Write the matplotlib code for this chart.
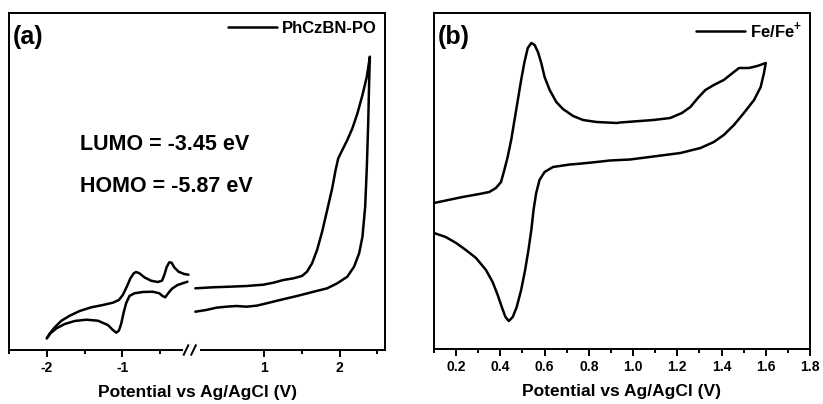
import numpy as np
import matplotlib
matplotlib.use("Agg")
import matplotlib.pyplot as plt

plt.rcParams["font.family"] = ["Liberation Sans", "DejaVu Sans"]
plt.rcParams["font.weight"] = "bold"
plt.rcParams["mathtext.fontset"] = "custom"
plt.rcParams["mathtext.rm"] = "Liberation Sans"
plt.rcParams["mathtext.bf"] = "Liberation Sans:bold"

# ---- (a) PhCzBN-PO, broken potential axis (current in arb. units) ----
a_neg_fwd_x = [-2.0, -1.96, -1.895, -1.807, -1.697, -1.566, -1.412, -1.259, -1.127,
               -1.048, -0.996, -0.943, -0.895, -0.851, -0.82, -0.776, -0.711, -0.623,
               -0.535, -0.478, -0.447, -0.417, -0.382, -0.351, -0.316, -0.259,
               -0.184, -0.128]
a_neg_fwd_y = [1.17, 1.67, 2.27, 2.93, 3.43, 3.9, 4.27, 4.5, 4.73,
               5.0, 5.5, 6.33, 7.17, 7.67, 7.8, 7.67, 7.27, 6.93,
               6.8, 6.93, 7.5, 8.27, 8.77, 8.73, 8.27, 7.83,
               7.6, 7.53]
a_neg_rev_x = [-2.0, -1.952, -1.873, -1.763, -1.632, -1.478, -1.325, -1.193, -1.127,
               -1.083, -1.048, -1.018, -0.987, -0.952, -0.908, -0.842, -0.732, -0.601,
               -0.513, -0.47, -0.434, -0.404, -0.346, -0.272, -0.141]
a_neg_rev_y = [1.17, 1.67, 2.17, 2.6, 2.9, 3.03, 2.93, 2.5, 2.0,
               1.73, 1.93, 2.6, 3.67, 4.67, 5.4, 5.67, 5.8, 5.83,
               5.67, 5.4, 5.27, 5.6, 6.13, 6.5, 6.83]
a_pos_x = [0.093, 0.324, 0.547, 0.769, 0.991, 1.124, 1.257, 1.391, 1.502, 1.569,
           1.636, 1.702, 1.769, 1.836, 1.902, 1.947, 1.982, 2.036, 2.102, 2.169,
           2.236, 2.302, 2.36, 2.40,
           2.391, 2.378, 2.36, 2.338, 2.302, 2.258, 2.191, 2.102, 1.969, 1.836,
           1.658, 1.436, 1.213, 1.036, 0.902, 0.769, 0.636, 0.502, 0.369, 0.236, 0.093]
a_pos_y = [6.17, 6.27, 6.33, 6.4, 6.53, 6.73, 7.0, 7.17, 7.4, 7.83,
           8.67, 10.0, 11.83, 14.0, 16.17, 18.0, 19.17, 20.0, 21.0, 22.17,
           23.67, 25.5, 27.33, 29.33,
           27.0, 22.67, 18.33, 14.33, 11.33, 9.67, 8.33, 7.33, 6.67, 6.17,
           5.83, 5.4, 5.0, 4.67, 4.43, 4.33, 4.4, 4.33, 4.23, 4.0, 3.83]

# ---- (b) ferrocene reference ----
b_x = [0.10, 0.229, 0.305, 0.35, 0.38, 0.403, 0.418, 0.433, 0.449, 0.464, 0.479,
       0.494, 0.509, 0.524, 0.54, 0.555, 0.57, 0.585, 0.60, 0.623, 0.653, 0.683,
       0.729, 0.774, 0.835, 0.926, 0.941, 1.092, 1.168, 1.221, 1.259, 1.297, 1.327,
       1.365, 1.41, 1.456, 1.479, 1.524, 1.562, 1.60,
       1.592, 1.577, 1.547, 1.501, 1.456, 1.41, 1.365, 1.305, 1.214, 1.092, 0.986,
       0.895, 0.835, 0.745, 0.714, 0.638, 0.60, 0.577, 0.562, 0.55, 0.54, 0.527,
       0.512, 0.494, 0.474, 0.456, 0.438, 0.423, 0.408, 0.388, 0.365, 0.335, 0.29,
       0.244, 0.2, 0.153, 0.10]
b_y = [14.6, 15.2, 15.5, 15.7, 16.1, 16.7, 17.9, 19.2, 20.9, 22.9, 24.9,
       26.9, 28.7, 30.1, 30.6, 30.4, 29.7, 28.6, 27.2, 25.9, 24.7, 24.0,
       23.3, 22.9, 22.7, 22.6, 22.65, 22.9, 23.1, 23.6, 24.2, 25.2, 25.9,
       26.4, 26.9, 27.7, 28.1, 28.1, 28.3, 28.6,
       27.6, 26.2, 24.9, 23.6, 22.4, 21.4, 20.7, 20.1, 19.6, 19.25, 18.95,
       18.85, 18.7, 18.5, 18.45, 18.2, 17.7, 16.9, 15.6, 13.9, 11.9, 9.9,
       7.9, 5.9, 4.2, 3.2, 2.8, 3.2, 4.1, 5.4, 6.7, 7.9, 9.1,
       9.9, 10.6, 11.2, 11.6]

BRK, GAP = -0.12, 0.13   # axis break position and removed interval


def fwd(x):
    x = np.asarray(x, dtype=float)
    return np.where(x < BRK, x, np.where(x < BRK + GAP, BRK, x - GAP))


def inv(y):
    y = np.asarray(y, dtype=float)
    return np.where(y < BRK, y, y + GAP)


fig = plt.figure(figsize=(8.23, 4.04), dpi=100)
ax1 = fig.add_axes([9 / 823, 1 - 350 / 404, 376 / 823, 337 / 404])
ax2 = fig.add_axes([434 / 823, 1 - 349 / 404, 376 / 823, 336 / 404])

LW = 1.8
kw = dict(color="black", lw=LW, solid_joinstyle="round", solid_capstyle="round")
ax1.set_xscale("function", functions=(fwd, inv))
ax1.plot(a_neg_fwd_x, a_neg_fwd_y, label="PhCzBN-PO", **kw)
ax1.plot(a_neg_rev_x, a_neg_rev_y, **kw)
ax1.plot(a_pos_x, a_pos_y, **kw)
ax1.set_xlim(-2.5, 2.6)
ax1.set_ylim(0, 33.7)
ax1.set_xticks([-2, -1, 1, 2])
ax1.set_xticklabels(["-2", "-1", "1", "2"])
ax1.set_xticks([-2.5, -1.5, -0.5, 1.5, 2.5], minor=True)

ax2.plot(b_x, b_y, label="Fe/Fe$^{\\mathbf{+}}$", **kw)
ax2.set_xlim(0.1, 1.8)
ax2.set_ylim(0, 33.6)
ax2.set_xticks(np.arange(0.2, 1.81, 0.2))
ax2.set_xticklabels([f"{v:.1f}" for v in np.arange(0.2, 1.81, 0.2)])
ax2.set_xticks(np.arange(0.1, 1.8, 0.2), minor=True)

for ax, top in ((ax1, 1.0), (ax2, 1.003)):
    ax.set_yticks([])
    for s in ax.spines.values():
        s.set_linewidth(1.4)
    ax.tick_params(axis="x", which="major", length=5, width=1.4, labelsize=10, pad=3)
    ax.tick_params(axis="x", which="minor", length=3, width=1.4)
    ax.set_xlabel("Potential vs Ag/AgCl (V)", fontsize=12.5, fontweight="bold", labelpad=7)
    ax.legend(loc="upper right", bbox_to_anchor=(1.0, top), frameon=False,
              handlelength=2.9, handletextpad=0.3, borderaxespad=0.1,
              prop={"weight": "bold", "size": 12})

# broken bottom spine with // marks
ax1.spines["bottom"].set_visible(False)
g0, g1 = (183 - 9) / 376, (200 - 9) / 376
ax1.plot([0, g0], [0, 0], transform=ax1.transAxes, color="black", lw=1.4,
         clip_on=False, solid_capstyle="butt")
ax1.plot([g1, 1], [0, 0], transform=ax1.transAxes, color="black", lw=1.4,
         clip_on=False, solid_capstyle="butt")
for c in (g0 + 0.008, g0 + 0.028):
    ax1.plot([c - 0.006, c + 0.006], [-0.014, 0.014], transform=ax1.transAxes,
             color="black", lw=1.4, clip_on=False)

ax1.text(0.01, 0.965, "(a)", transform=ax1.transAxes, fontsize=18, fontweight="bold",
         va="top", ha="left")
ax2.text(0.01, 0.965, "(b)", transform=ax2.transAxes, fontsize=18, fontweight="bold",
         va="top", ha="left")
ax1.text(0.189, 0.61, "LUMO = -3.45 eV", transform=ax1.transAxes, fontsize=15.5,
         fontweight="bold", va="center", ha="left")
ax1.text(0.189, 0.485, "HOMO = -5.87 eV", transform=ax1.transAxes, fontsize=15.5,
         fontweight="bold", va="center", ha="left")

fig.savefig("out.png", dpi=100)
